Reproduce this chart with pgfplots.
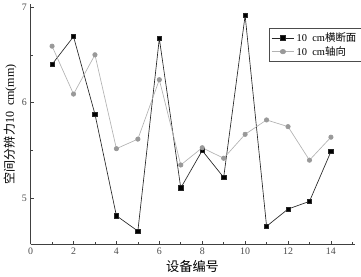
\documentclass[border=0pt]{standalone}
\usepackage{pgfplots}
\pgfplotsset{compat=1.18}
\usepackage{fontspec}
\setmainfont{Liberation Serif}
\newfontfamily\cjk{Noto Sans CJK SC}
\begin{document}
\begin{tikzpicture}
\begin{axis}[
  scale only axis,
  width=295pt, height=219pt,
  xmin=0, xmax=15.1, ymin=4.52, ymax=7.03,
  axis x line*=bottom, axis y line*=left,
  axis line style={black!75, line width=0.6pt},
  xtick={0,2,...,14}, minor xtick={1,3,...,15},
  ytick={5,6,7}, minor ytick={4.5,5.5,6.5},
  tick style={black!75, line width=0.5pt},
  major tick length=3pt, minor tick length=2pt,
  tick label style={font=\fontsize{9}{10}\selectfont, text=black!70},
  /pgf/number format/assume math mode=true,
  xlabel={\cjk\fontsize{12}{13}\selectfont 设备编号},
  ylabel={\cjk\fontsize{11}{12}\selectfont 空间分辨力{\rmfamily 10\ \ cm(mm)}},
  xlabel style={yshift=2pt},
  ylabel style={yshift=-2pt},
  legend style={at={(1.02,0.9)}, anchor=north east, draw=black!70, font=\fontsize{9.5}{10.5}\selectfont, row sep=-1pt, inner sep=2pt},
  legend image post style={xscale=1.2},
  legend cell align=left,
]
\addplot[black!85, line width=0.6pt, mark=square*, mark size=2pt, mark options={fill=black}] coordinates {
(1,6.40) (2,6.69) (3,5.88) (4,4.82) (5,4.66) (6,6.67) (7,5.11) (8,5.50) (9,5.22) (10,6.91) (11,4.71) (12,4.89) (13,4.97) (14,5.49)};
\addlegendentry{10\ \ cm{\cjk 横断面}}
\addplot[black!30, line width=0.6pt, mark=*, mark size=2pt, mark options={fill=black!40, draw=black!40}] coordinates {
(1,6.59) (2,6.09) (3,6.50) (4,5.52) (5,5.62) (6,6.24) (7,5.35) (8,5.53) (9,5.42) (10,5.67) (11,5.82) (12,5.75) (13,5.40) (14,5.64)};
\addlegendentry{10\ \ cm{\cjk 轴向}}
\end{axis}
\end{tikzpicture}
\end{document}
